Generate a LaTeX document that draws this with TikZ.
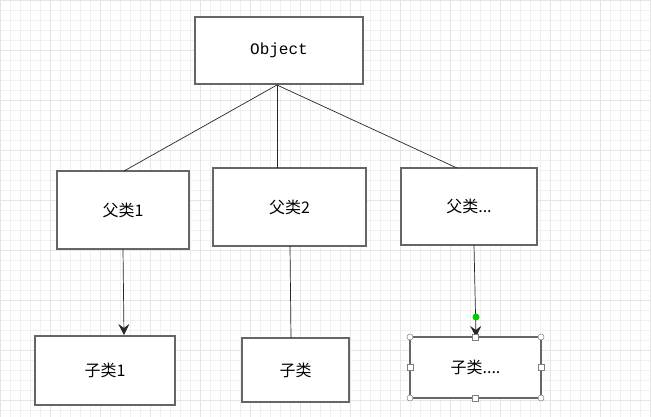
\documentclass[tikz,border=0pt]{standalone}
\usepackage{fontspec}
\newfontfamily\cjk{Noto Sans CJK SC}
\setmonofont{Liberation Mono}
\usetikzlibrary{arrows.meta}
\begin{document}
\begin{tikzpicture}[x=1pt,y=-1pt,
  box/.style={draw=black!60,line width=1.5pt,fill=white,inner sep=0pt,font=\cjk\fontsize{16}{18}\selectfont},
  link/.style={draw=black!85,line width=0.7pt},
  arr/.style={link,-{Stealth[length=11pt,width=11pt,inset=4pt]}},
  hnd/.style={draw=black!50,fill=white,line width=0.5pt}]
\useasboundingbox (0,0) rectangle (651,417);
\fill[white] (0,0) rectangle (651,417);
\foreach \i in {0,10,...,650}{\draw[black!6,line width=0.4pt] (\i,0) -- (\i,417);}
\foreach \i in {0,10,...,410}{\draw[black!6,line width=0.4pt] (0,\i) -- (651,\i);}
\foreach \i in {0,50,...,650}{\draw[black!10,line width=0.5pt] (\i,0) -- (\i,417);}
\foreach \i in {0,50,...,410}{\draw[black!10,line width=0.5pt] (0,\i) -- (651,\i);}
\node[box,minimum width=168pt,minimum height=67pt] (obj) at (279,50.5) {\ttfamily\fontsize{16}{18}\selectfont Object};
\node[box,minimum width=132pt,minimum height=78pt] (p1) at (123,210) {父类1};
\node[box,minimum width=153pt,minimum height=78pt] (p2) at (289.5,207) {父类2};
\node[box,minimum width=136pt,minimum height=77pt] (p3) at (469,206.5) {父类...};
\node[box,minimum width=140pt,minimum height=69pt] (c1) at (105,370.5) {子类1};
\node[box,minimum width=107pt,minimum height=64pt] (c2) at (295.5,370) {子类};
\node[box,minimum width=131pt,minimum height=61pt] (c3) at (475.5,367.5) {子类....};
\coordinate (o) at (277,85);
\draw[link] (o) -- (124,171);
\draw[link] (o) -- (277,168);
\draw[link] (o) -- (457,168);
\draw[arr] (123,249) -- (124,335);
\draw[link] (290,246) -- (291,338);
\draw[arr] (474,245) -- (476,337);
\fill[green!80!black] (476,317) circle (3.5pt);
\foreach \x/\y in {410/337,541/337,410/398,541/398}{\draw[hnd] (\x,\y) circle (3pt);}
\foreach \x/\y in {475.5/337,475.5/398,410/367.5,541/367.5}{\draw[hnd] (\x-2.8,\y-2.8) rectangle (\x+2.8,\y+2.8);}
\end{tikzpicture}
\end{document}
